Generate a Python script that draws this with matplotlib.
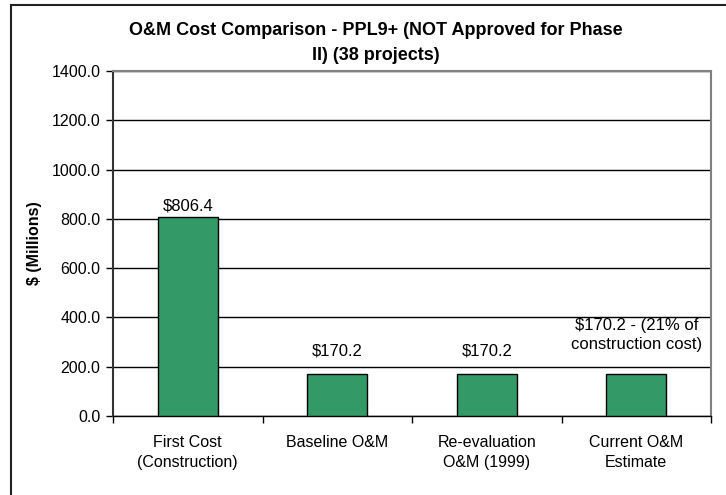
import matplotlib.pyplot as plt
import numpy as np

plt.rcParams['font.family'] = ['Liberation Sans', 'DejaVu Sans']

categories = ['First Cost\n(Construction)', 'Baseline O&M', 'Re-evaluation\nO&M (1999)', 'Current O&M\nEstimate']
values = [806.4, 170.2, 170.2, 170.2]
bar_labels = ['$806.4', '$170.2', '$170.2', '$170.2 - (21% of\nconstruction cost)']
yticks = np.arange(0, 1401, 200)

# gap (points) between bar top and its value label
label_gap = [3, 11, 11, 16]

fig = plt.figure(figsize=(7.26, 4.95), dpi=100)
ax = fig.add_axes([113/726, 1 - 416/495, (711 - 113)/726, (416 - 71)/495])

x = np.arange(len(values))
ax.bar(x, values, width=0.4, color='#339966', edgecolor='black', linewidth=1, zorder=3)

for xi, v, lab, g in zip(x, values, bar_labels, label_gap):
    ax.annotate(lab, (xi, v), xytext=(0, g), textcoords='offset points',
                ha='center', va='bottom', fontsize=12, linespacing=1.35)

ax.set_xlim(-0.5, len(values) - 0.5)
ax.set_ylim(0, 1400)
ax.set_yticks(yticks)
ax.set_yticklabels([f'{t:.1f}' for t in yticks], fontsize=11.5)
ax.yaxis.grid(True, color='black', linewidth=1, zorder=0)

ax.set_xticks(np.arange(-0.5, len(values), 1.0))
ax.set_xticklabels([])
ax.set_xticks(x, minor=True)
ax.set_xticklabels(categories, minor=True, fontsize=11.5, linespacing=1.35)
ax.tick_params(axis='x', which='minor', length=0, pad=14)
ax.tick_params(axis='x', which='major', length=5, width=1, direction='out')
ax.tick_params(axis='y', length=5, width=1, direction='out', pad=4)

for side in ['top', 'right']:
    ax.spines[side].set_color('#808080')
    ax.spines[side].set_linewidth(1.5)
ax.spines['left'].set_color('#333333')
ax.spines['left'].set_linewidth(1.5)
ax.spines['bottom'].set_color('black')
ax.spines['bottom'].set_linewidth(1)

ax.set_ylabel('$ (Millions)', fontsize=11.5, fontweight='bold', labelpad=7)

fig.text(376/726, 1 - 43/495, 'O&M Cost Comparison - PPL9+ (NOT Approved for Phase\nII) (38 projects)',
         ha='center', va='center', fontsize=13, fontweight='bold', linespacing=1.55)

# chart area border (left and top edges visible)
fig.add_artist(plt.Line2D([11/726, 11/726], [0, 1 - 5/495], color='#222222', lw=1.5))
fig.add_artist(plt.Line2D([11/726, 1], [1 - 5/495, 1 - 5/495], color='#222222', lw=1.5))

fig.savefig('out.png', dpi=100)
